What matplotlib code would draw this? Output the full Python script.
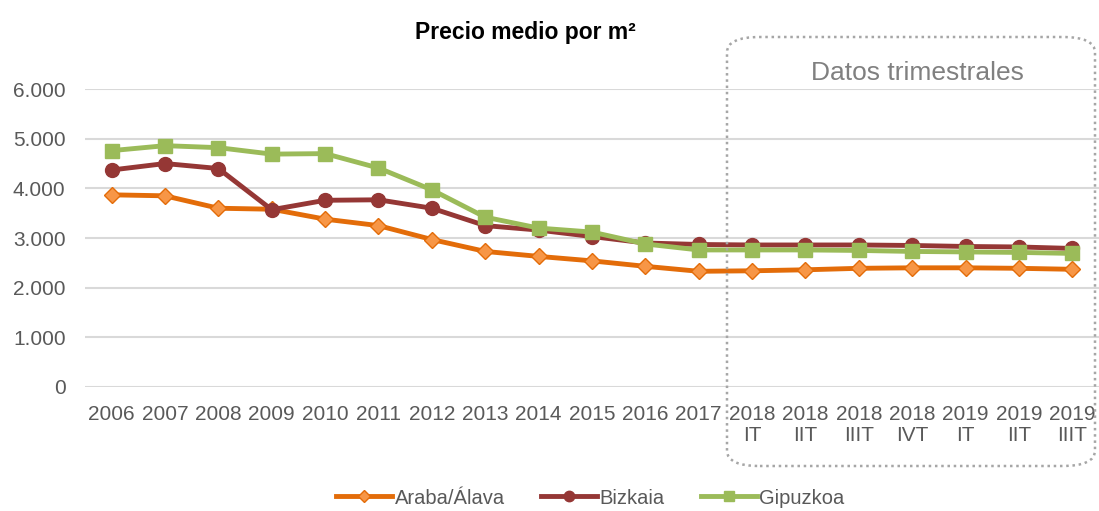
import matplotlib.pyplot as plt
from matplotlib.patches import FancyBboxPatch
from matplotlib.ticker import FuncFormatter

plt.rcParams['font.family'] = ['Liberation Sans', 'DejaVu Sans']

# Categories and series
labels = ["2006", "2007", "2008", "2009", "2010", "2011", "2012", "2013", "2014",
          "2015", "2016", "2017", "2018\nIT", "2018\nIIT", "2018\nIIIT", "2018\nIVT",
          "2019\nIT", "2019\nIIT", "2019\nIIIT"]
araba = [3870, 3850, 3600, 3580, 3380, 3250, 2970, 2730, 2630, 2540, 2430, 2330,
         2340, 2360, 2390, 2400, 2400, 2390, 2370]
bizkaia = [4370, 4500, 4400, 3570, 3760, 3770, 3600, 3250, 3160, 3030, 2900, 2870,
           2860, 2860, 2860, 2850, 2830, 2820, 2790]
gipuzkoa = [4760, 4860, 4820, 4690, 4700, 4410, 3970, 3420, 3200, 3120, 2880, 2760,
            2760, 2760, 2750, 2730, 2720, 2710, 2690]

x = list(range(len(labels)))

fig = plt.figure(figsize=(10.99, 5.11), dpi=100)
ax = fig.add_axes([0.0773, 0.2427, 0.9227, 0.583])

ax.plot(x, araba, color="#E36C09", lw=3.5, marker="D", ms=8,
        mfc="#F79646", mec="#E36C09", mew=1, label="Araba/Álava", solid_joinstyle="round")
ax.plot(x, bizkaia, color="#953735", lw=3.5, marker="o", ms=10,
        mfc="#953735", mec="#953735", label="Bizkaia", solid_joinstyle="round")
ax.plot(x, gipuzkoa, color="#9BBB59", lw=3.5, marker="s", ms=10,
        mfc="#9BBB59", mec="#9BBB59", label="Gipuzkoa", solid_joinstyle="round")

ax.set_xlim(-0.5, len(labels) - 0.5)
ax.set_ylim(0, 6000)
ax.set_yticks(range(0, 6001, 1000))
ax.yaxis.set_major_formatter(FuncFormatter(lambda v, p: f"{int(v):,}".replace(",", ".")))
ax.set_xticks(x)
ax.set_xticklabels(labels)
ax.tick_params(axis="both", length=0, labelsize=15, labelcolor="#595959")
ax.tick_params(axis="y", pad=14)
ax.tick_params(axis="x", pad=13)
for lbl in ax.get_xticklabels():
    lbl.set_linespacing(1.15)
ax.grid(axis="y", color="#D9D9D9", lw=1.5)
ax.set_axisbelow(True)
for s in ax.spines.values():
    s.set_visible(False)

fig.text(525 / 1099, 1 - 32 / 511, "Precio medio por m²", ha="center", va="center",
         fontsize=16.5, fontweight="bold", color="black")

# quarterly data box
box = FancyBboxPatch((727 / 1099, 1 - 466 / 511), 368 / 1099, 429 / 511,
                     boxstyle="round,pad=0,rounding_size=0.03",
                     transform=fig.transFigure, fill=False,
                     ec="#A6A6A6", lw=1.8, ls=(0, (1, 1.5)))
fig.patches.append(box)
fig.text(917 / 1099, 1 - 73 / 511, "Datos trimestrales", ha="center", va="center",
         fontsize=19, color="#808080")

fig.legend(loc="center", bbox_to_anchor=(0.537, 1 - 498 / 511), ncol=3, frameon=False,
           fontsize=14.5, labelcolor="#595959", handlelength=2.8, handletextpad=0.1,
           columnspacing=1.8, markerscale=0.75)

fig.savefig("out.png", dpi=100)
